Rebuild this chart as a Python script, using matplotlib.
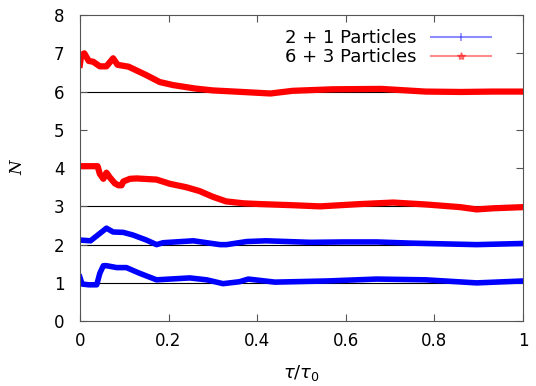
import numpy as np
import matplotlib
matplotlib.use("Agg")
import matplotlib.pyplot as plt
from matplotlib.lines import Line2D

# 6 + 3 particles, upper branch (~6)
t_r6 = [0.0, 0.003, 0.01, 0.02, 0.03, 0.045, 0.06, 0.075, 0.085, 0.11, 0.15, 0.18, 0.21,
        0.26, 0.30, 0.35, 0.43, 0.48, 0.57, 0.68, 0.78, 0.86, 0.93, 1.0]
n_r6 = [6.7, 6.95, 7.0, 6.8, 6.78, 6.66, 6.66, 6.87, 6.7, 6.65, 6.43, 6.25, 6.17,
        6.08, 6.03, 6.0, 5.95, 6.02, 6.06, 6.07, 6.0, 5.99, 6.0, 6.0]

# 6 + 3 particles, lower branch (~3)
t_r3 = [0.0, 0.04, 0.045, 0.053, 0.06, 0.068, 0.079, 0.087, 0.094, 0.098, 0.113, 0.128,
        0.173, 0.203, 0.24, 0.27, 0.30, 0.33, 0.369, 0.406, 0.48, 0.542, 0.632, 0.707,
        0.78, 0.858, 0.895, 0.933, 1.0]
n_r3 = [4.05, 4.05, 3.85, 3.72, 3.88, 3.75, 3.6, 3.55, 3.55, 3.65, 3.72, 3.73,
        3.7, 3.59, 3.5, 3.4, 3.25, 3.13, 3.08, 3.06, 3.03, 3.0, 3.06, 3.1,
        3.05, 2.98, 2.92, 2.95, 2.98]

# 2 + 1 particles, upper branch (~2)
t_b2 = [0.0, 0.024, 0.06, 0.075, 0.098, 0.12, 0.15, 0.173, 0.188, 0.256, 0.316, 0.331,
        0.376, 0.42, 0.52, 0.595, 0.67, 0.745, 0.895, 1.0]
n_b2 = [2.12, 2.1, 2.43, 2.33, 2.32, 2.25, 2.12, 2.0, 2.05, 2.1, 2.0, 2.0,
        2.08, 2.1, 2.06, 2.07, 2.07, 2.04, 2.0, 2.03]

# 2 + 1 particles, lower branch (~1)
t_b1 = [0.0, 0.005, 0.02, 0.038, 0.045, 0.053, 0.06, 0.083, 0.105, 0.135, 0.173, 0.248,
        0.286, 0.323, 0.36, 0.38, 0.44, 0.557, 0.67, 0.78, 0.895, 1.0]
n_b1 = [1.15, 0.97, 0.95, 0.95, 1.25, 1.45, 1.45, 1.4, 1.4, 1.25, 1.08, 1.13,
        1.08, 0.98, 1.03, 1.1, 1.02, 1.05, 1.1, 1.08, 1.0, 1.05]

ref_levels = [1, 2, 3, 6]
labels = ["2 + 1 Particles", "6 + 3 Particles"]

fig = plt.figure(figsize=(5.36, 3.86), dpi=100)
ax = fig.add_axes([0.149, 0.168, 0.827, 0.793])

for lv in ref_levels:
    ax.axhline(lv, color="black", lw=0.8, zorder=1)

ax.plot(t_r6, n_r6, color="#ff0000", lw=4.5, solid_joinstyle="round", zorder=2)
ax.plot(t_r3, n_r3, color="#ff0000", lw=4.5, solid_joinstyle="round", zorder=2)
ax.plot(t_b2, n_b2, color="#0000ff", lw=4.0, solid_joinstyle="round", zorder=2)
ax.plot(t_b1, n_b1, color="#0000ff", lw=4.0, solid_joinstyle="round", zorder=2)

ax.set_xlim(0, 1)
ax.set_ylim(0, 8)
ax.set_xticks([0, 0.2, 0.4, 0.6, 0.8, 1])
ax.set_xticklabels(["0", "0.2", "0.4", "0.6", "0.8", "1"])
ax.set_yticks(range(9))
ax.tick_params(direction="in", top=True, right=True, length=5, width=0.8,
               labelsize=12, color="#555555")
ax.tick_params(axis="y", pad=11)
ax.tick_params(axis="x", pad=8)
for sp in ax.spines.values():
    sp.set_color("#555555")
    sp.set_linewidth(0.8)

ax.set_xlabel(r"$\tau/\tau_0$", fontsize=13, labelpad=9)
ax.set_ylabel("N", fontsize=12, style="italic", family="DejaVu Serif", labelpad=20)

handles = [
    Line2D([], [], color="#0000ff", alpha=0.45, lw=1.5, marker="|", markersize=6,
           markeredgecolor="#0000ff", markeredgewidth=1.2),
    Line2D([], [], color="#ff0000", alpha=0.45, lw=1.5, marker="*", markersize=6,
           markeredgecolor="#ff0000", markerfacecolor="#ff0000"),
]
ax.legend(handles, labels, loc="upper right", frameon=False, markerfirst=False,
          fontsize=13, handlelength=3.3, borderaxespad=0.3, labelspacing=0.05,
          handletextpad=0.8, bbox_to_anchor=(0.955, 0.995))

fig.savefig("out.png", dpi=100)
